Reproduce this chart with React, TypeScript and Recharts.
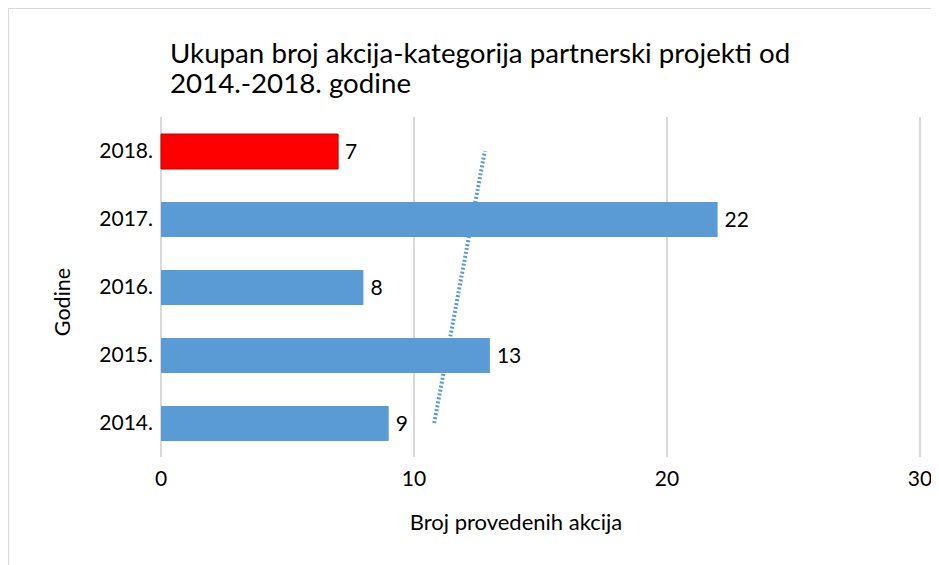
import React from 'react';
import {
  ComposedChart, Bar, Line, XAxis, YAxis, CartesianGrid, Cell, LabelList
} from 'recharts';

// Godine (bottom to top) and broj akcija
const years = ['2014.', '2015.', '2016.', '2017.', '2018.'];
const actions = [9, 13, 8, 22, 7];
// linear trend
const trend = [10.8, 11.3, 11.8, 12.3, 12.8];
const xTicks = [0, 10, 20, 30];

const colors = {
  bar: '#5B9BD5',
  highlight: '#FF0000',
  highlightBorder: '#C00000',
  grid: '#D9D9D9',
  text: '#000000',
};

const font = 'Lato, "Open Sans", sans-serif';

const chartData = years.map((year, i) => ({
  year,
  actions: actions[i],
  trend: trend[i],
}));

const App: React.FC = () => {
  return (
    <div
      style={{
        position: 'relative',
        width: 960,
        height: 560,
        border: '1px solid #D9D9D9',
        boxSizing: 'border-box',
        background: '#fff',
        fontFamily: font,
        color: colors.text,
      }}
    >
      {/* Title */}
      <div
        style={{
          position: 'absolute',
          left: 161,
          top: 29,
          fontSize: 27.7,
          lineHeight: '30px',
          whiteSpace: 'nowrap',
        }}
      >
        Ukupan broj akcija-kategorija partnerski projekti od
        <br />
        2014.-2018. godine
      </div>

      {/* Y axis title */}
      <div
        style={{
          position: 'absolute',
          left: 53,
          top: 293,
          fontSize: 21.5,
          transform: 'translate(-50%, -50%) rotate(-90deg)',
          whiteSpace: 'nowrap',
        }}
      >
        Godine
      </div>

      {/* X axis title */}
      <div
        style={{
          position: 'absolute',
          left: 507,
          top: 512,
          fontSize: 22,
          transform: 'translate(-50%, -50%)',
          whiteSpace: 'nowrap',
        }}
      >
        Broj provedenih akcija
      </div>

      <div style={{ position: 'absolute', left: 0, top: 0 }}>
        <ComposedChart
          width={950}
          height={556}
          data={chartData}
          layout="vertical"
          margin={{ top: 108, right: 39, left: 0, bottom: 48 }}
          barSize={35}
        >
          <CartesianGrid horizontal={false} stroke={colors.grid} strokeWidth={2} />
          <XAxis
            type="number"
            domain={[0, 30]}
            ticks={xTicks}
            axisLine={false}
            tickLine={false}
            tickMargin={8}
            height={60}
            tick={{ fill: colors.text, fontSize: 21, fontFamily: font }}
          />
          <YAxis
            type="category"
            dataKey="year"
            reversed
            width={152}
            axisLine={false}
            tickLine={false}
            tick={{ fill: colors.text, fontSize: 21, fontFamily: font }}
          />
          <Bar dataKey="actions" isAnimationActive={false}>
            {chartData.map((d, i) => (
              <Cell
                key={d.year}
                fill={i === chartData.length - 1 ? colors.highlight : colors.bar}
                stroke={i === chartData.length - 1 ? colors.highlightBorder : 'none'}
                strokeWidth={1}
              />
            ))}
            <LabelList
              dataKey="actions"
              position="right"
              offset={7}
              fill={colors.text}
              fontSize={21}
              fontFamily={font}
            />
          </Bar>
          <Line
            dataKey="trend"
            type="linear"
            stroke={colors.bar}
            strokeWidth={4}
            strokeDasharray="2 2"
            dot={false}
            activeDot={false}
            isAnimationActive={false}
          />
        </ComposedChart>
      </div>
    </div>
  );
};

export default App;
